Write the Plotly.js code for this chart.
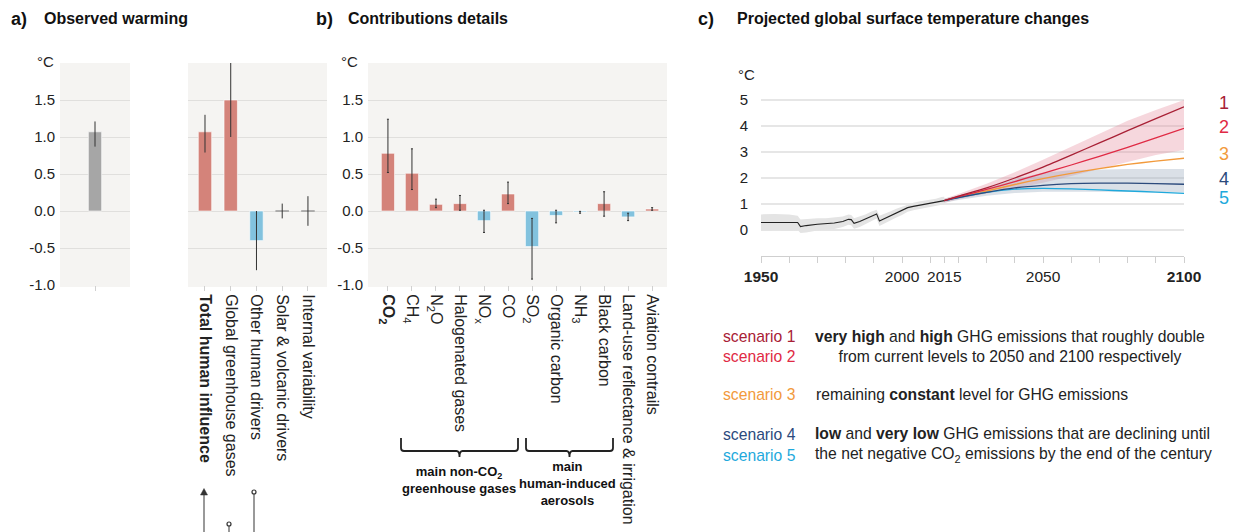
<!DOCTYPE html>
<html><head><meta charset="utf-8">
<script src="https://cdn.plot.ly/plotly-3.0.1.min.js"></script>
<style>html,body{margin:0;padding:0;background:#fff}#chart{width:1233px;height:532px}</style>
</head><body><div id="chart"></div>
<script>
// ---------- DATA ----------
const obsCats = ['Observed'];
const obsVals = [1.07];
const obsLow  = [0.87];
const obsHigh = [1.21];

const attrCats   = ['Total human influence','Global greenhouse gases','Other human drivers','Solar & volcanic drivers','Internal variability'];
const attrLabels = ['<b>Total human influence</b>','Global greenhouse gases','Other human drivers','Solar & volcanic drivers','Internal variability'];
const attrVals = [1.07, 1.50, -0.40, 0.00, 0.00];
const attrLow  = [0.79, 1.00, -0.80, -0.10, -0.20];
const attrHigh = [1.30, 2.00, 0.00, 0.10, 0.20];

const contribCats = ['CO2','CH4','N2O','Halogenated gases','NOx','CO','SO2','Organic carbon','NH3','Black carbon','Land-use reflectance & irrigation','Aviation contrails'];
const contribLabels = ['<b>CO<sub>2</sub></b>','CH<sub>4</sub>','N<sub>2</sub>O','Halogenated gases','NO<sub>x</sub>','CO','SO<sub>2</sub>','Organic carbon','NH<sub>3</sub>','Black carbon','Land-use reflectance & irrigation','Aviation contrails'];
const contribVals = [0.78, 0.51, 0.09, 0.10, -0.13, 0.23, -0.48, -0.06, -0.013, 0.10, -0.08, 0.027];
const contribLow  = [0.52, 0.29, 0.045, 0.01, -0.29, 0.10, -0.92, -0.16, -0.03, -0.07, -0.13, 0.01];
const contribHigh = [1.24, 0.84, 0.16, 0.21, 0.01, 0.39, -0.10, 0.01, -0.005, 0.26, -0.03, 0.045];

const histYears = [1950,1955,1960,1963,1964,1966,1970,1973,1976,1979,1981,1982,1983,1985,1987,1989,1991,1992,1994,1996,1998,2000,2002,2004,2006,2008,2010,2012,2014,2015];
const histTemp  = [0.29,0.30,0.30,0.29,0.13,0.17,0.22,0.24,0.27,0.33,0.41,0.40,0.26,0.33,0.42,0.52,0.62,0.35,0.45,0.56,0.66,0.75,0.86,0.91,0.95,0.99,1.03,1.06,1.12,1.13];
const histUpper = [0.60,0.62,0.60,0.55,0.40,0.42,0.45,0.45,0.48,0.52,0.60,0.58,0.45,0.52,0.60,0.70,0.78,0.55,0.62,0.72,0.82,0.90,1.00,1.05,1.10,1.13,1.17,1.20,1.27,1.28];
const histLower = [-0.02,0.00,-0.02,0.00,-0.12,-0.10,-0.02,0.00,0.04,0.12,0.20,0.18,0.05,0.12,0.22,0.33,0.44,0.15,0.27,0.38,0.48,0.58,0.70,0.76,0.80,0.85,0.90,0.93,0.98,0.99];

const projYears = [2015,2020,2030,2040,2050,2060,2070,2080,2090,2100];
const scen1 = [1.13,1.30,1.62,2.00,2.42,2.88,3.35,3.82,4.28,4.74];
const scen2 = [1.13,1.28,1.56,1.86,2.18,2.50,2.83,3.18,3.54,3.91];
const scen3 = [1.13,1.27,1.50,1.75,1.98,2.18,2.36,2.52,2.65,2.76];
const scen4 = [1.13,1.25,1.45,1.62,1.72,1.78,1.80,1.80,1.78,1.76];
const scen5 = [1.13,1.25,1.45,1.57,1.60,1.58,1.54,1.50,1.46,1.41];
const highBandUpper = [1.20,1.38,1.78,2.22,2.70,3.20,3.70,4.20,4.62,5.00];
const highBandLower = [1.05,1.18,1.40,1.60,1.82,2.08,2.35,2.62,2.88,3.08];
const lowBandUpper  = [1.20,1.33,1.60,1.95,2.20,2.30,2.33,2.35,2.35,2.35];
const lowBandLower  = [1.05,1.15,1.32,1.42,1.47,1.48,1.47,1.46,1.45,1.44];

const scenarioNames = ['scenario 1','scenario 2','scenario 3','scenario 4','scenario 5'];
const yTickVals = [-1,-0.5,0,0.5,1,1.5];
const yTickText = ['-1.0','-0.5','0.0','0.5','1.0','1.5'];
const cTickVals = [1950,1960,1970,1980,1990,2000,2010,2015,2020,2030,2040,2050,2060,2070,2080,2090,2100];
const cTickText = ['<b>1950</b>','','','','','2000','','2015','','','','2050','','','','','<b>2100</b>'];

// ---------- STYLE ----------
const W = 1233, H = 532;
const px = x => x / W;
const py = y => 1 - y / H;
const FONT = 'Liberation Sans, Arial, Helvetica, sans-serif';
const RED = '#d4837a', BLUE = '#82c2de', GREY = '#a6a6a6';
const scenColors = ['#a82035','#e02a44','#f29a3c','#2b4a7c','#1fa9dc'];
const barColor = v => v >= 0 ? RED : BLUE;

function errs(vals, low, high) {
  return {type:'data', symmetric:false,
    array: vals.map((v,i)=>high[i]-v), arrayminus: vals.map((v,i)=>v-low[i]),
    color:'#333', thickness:1, width:0};
}

const traces = [];
traces.push({type:'bar', x:obsCats, y:obsVals, xaxis:'x', yaxis:'y', width:0.19,
  marker:{color:GREY, line:{color:'rgba(255,255,255,0.6)', width:1}},
  error_y: errs(obsVals, obsLow, obsHigh), hoverinfo:'skip'});
traces.push({type:'bar', x:attrCats, y:attrVals, xaxis:'x2', yaxis:'y2', width:0.52,
  marker:{color:attrVals.map(barColor), line:{color:attrVals.map(v=>v===0?'#999':'rgba(255,255,255,0.6)'), width:1}},
  error_y: errs(attrVals, attrLow, attrHigh), hoverinfo:'skip'});
const ce = errs(contribVals, contribLow, contribHigh); ce.width = 1;
traces.push({type:'bar', x:contribCats, y:contribVals, xaxis:'x3', yaxis:'y3', width:0.55,
  marker:{color:contribVals.map(barColor), line:{color:'rgba(255,255,255,0.6)', width:1}},
  error_y: ce, hoverinfo:'skip'});

// Panel c
function band(xs, up, lo, color) {
  traces.push({type:'scatter', mode:'lines', x:xs, y:up, xaxis:'x4', yaxis:'y4', line:{width:0, color:'rgba(0,0,0,0)'}, hoverinfo:'skip'});
  traces.push({type:'scatter', mode:'lines', x:xs, y:lo, xaxis:'x4', yaxis:'y4', line:{width:0, color:'rgba(0,0,0,0)'}, fill:'tonexty', fillcolor:color, hoverinfo:'skip'});
}
band(histYears, histUpper, histLower, '#e4e4e4');
traces.push({type:'scatter', mode:'lines', x:histYears, y:histTemp, xaxis:'x4', yaxis:'y4', line:{color:'#222', width:1.1}, hoverinfo:'skip'});
band(projYears, highBandUpper, highBandLower, 'rgba(228,130,148,0.32)');
band(projYears, lowBandUpper, lowBandLower, 'rgba(150,165,185,0.35)');
[scen3, scen5, scen4, scen2, scen1].forEach((s) => {
  const idx = [scen1,scen2,scen3,scen4,scen5].indexOf(s);
  traces.push({type:'scatter', mode:'lines', x:projYears, y:s, xaxis:'x4', yaxis:'y4',
    line:{color:scenColors[idx], width:1.3, shape:'spline', smoothing:0.6}, hoverinfo:'skip'});
});

const tickFont = {family:FONT, size:15, color:'#222'};
const catFont = {family:FONT, size:16, color:'#222'};
const baseY = {range:[-1,2], tickvals:yTickVals, ticktext:yTickText, gridcolor:'#e0dfdd', gridwidth:1,
  zeroline:false, showline:false, ticks:'', tickfont:tickFont, fixedrange:true, ticklabelstandoff:4};
const baseX = {type:'category', ticks:'outside', ticklen:5, tickcolor:'#d0d0d0', showgrid:false, zeroline:false,
  showline:false, tickangle:90, tickfont:catFont, fixedrange:true};

const layout = {
  width:W, height:H, margin:{l:0,r:0,t:0,b:0}, paper_bgcolor:'#fff', plot_bgcolor:'rgba(0,0,0,0)',
  showlegend:false, bargap:0, font:{family:FONT, color:'#222'},
  xaxis: Object.assign({}, baseX, {domain:[px(60),px(130)], anchor:'y', range:[-0.5,0.5], showticklabels:false}),
  yaxis: Object.assign({}, baseY, {domain:[py(285),py(63)], anchor:'x'}),
  xaxis2: Object.assign({}, baseX, {domain:[px(188),px(327)], anchor:'y2', range:[-0.66,4.74], tickmode:'array', tickvals:attrCats, ticktext:attrLabels}),
  yaxis2: Object.assign({}, baseY, {domain:[py(285),py(63)], anchor:'x2', showticklabels:false}),
  xaxis3: Object.assign({}, baseX, {domain:[px(368),px(667)], anchor:'y3', range:[-0.83,11.62], tickmode:'array', tickvals:contribCats, ticktext:contribLabels}),
  yaxis3: Object.assign({}, baseY, {domain:[py(285),py(63)], anchor:'x3'}),
  xaxis4: {domain:[px(761),px(1184)], anchor:'y4', range:[1950,2100], tickmode:'array', tickvals:cTickVals, ticktext:cTickText,
    ticks:'outside', ticklen:6, tickcolor:'#cfcfcf', showline:true, linecolor:'#cfcfcf', linewidth:1, showgrid:false, zeroline:false,
    tickangle:0, tickfont:{family:FONT, size:15.5, color:'#222'}, fixedrange:true},
  yaxis4: {domain:[py(256),py(87)], anchor:'x4', range:[-1,5.5], tickvals:[0,1,2,3,4,5], gridcolor:'#e6e6e6', gridwidth:1.5,
    zeroline:false, showline:false, ticks:'', tickfont:tickFont, fixedrange:true, ticklabelstandoff:12},
  shapes: [],
  annotations: []
};

// panel backgrounds
[[60,130],[188,327],[368,667]].forEach(([a,b]) => {
  layout.shapes.push({type:'rect', xref:'paper', yref:'paper', x0:px(a), x1:px(b), y0:py(287), y1:py(63),
    fillcolor:'#f5f4f2', line:{width:0}, layer:'below'});
});

// braces
function brace(x1, x2, yTop, yLine, yTip) {
  const xm = (x1+x2)/2, r = 3;
  return `M${px(x1)},${py(yTop)} L${px(x1)},${py(yLine-r)} Q${px(x1)},${py(yLine)} ${px(x1+r)},${py(yLine)} ` +
    `L${px(xm-r)},${py(yLine)} Q${px(xm)},${py(yLine)} ${px(xm)},${py(yTip)} Q${px(xm)},${py(yLine)} ${px(xm+r)},${py(yLine)} ` +
    `L${px(x2-r)},${py(yLine)} Q${px(x2)},${py(yLine)} ${px(x2)},${py(yLine-r)} L${px(x2)},${py(yTop)}`;
}
layout.shapes.push({type:'path', xref:'paper', yref:'paper', path:brace(401,518,438,451,457), line:{color:'#222', width:1.8}});
layout.shapes.push({type:'path', xref:'paper', yref:'paper', path:brace(526,613,438,451,457), line:{color:'#222', width:1.8}});

// leader lines below panel a
const lc = '#555';
layout.shapes.push({type:'line', xref:'paper', yref:'paper', x0:px(204), x1:px(204), y0:py(532), y1:py(494), line:{color:lc, width:1.2}});
layout.shapes.push({type:'path', xref:'paper', yref:'paper', path:`M${px(200.5)},${py(495)} L${px(204)},${py(488.5)} L${px(207.5)},${py(495)} Z`, fillcolor:'#333', line:{color:'#333', width:0.5}});
layout.shapes.push({type:'line', xref:'paper', yref:'paper', x0:px(229), x1:px(229), y0:py(532), y1:py(526), line:{color:lc, width:1.2}});
layout.shapes.push({type:'circle', xref:'paper', yref:'paper', x0:px(227), x1:px(231), y0:py(526), y1:py(522), fillcolor:'#fff', line:{color:'#333', width:1.2}});
layout.shapes.push({type:'line', xref:'paper', yref:'paper', x0:px(254), x1:px(254), y0:py(532), y1:py(494), line:{color:lc, width:1.2}});
layout.shapes.push({type:'circle', xref:'paper', yref:'paper', x0:px(252), x1:px(256), y0:py(494), y1:py(490), fillcolor:'#fff', line:{color:'#333', width:1.2}});

// annotations
function ann(text, x, y, opts) {
  layout.annotations.push(Object.assign({text, x:px(x), y:py(y), xref:'paper', yref:'paper', showarrow:false,
    xanchor:'left', yanchor:'middle', font:{family:FONT, size:15, color:'#222'}}, opts||{}));
}
const titleFont = {family:FONT, size:16, color:'#111'};
const labFont = {family:FONT, size:18, color:'#111'};
ann('<b>a)</b>', 9, 19, {font:labFont});
ann('<b>Observed warming</b>', 42, 19, {font:titleFont});
ann('<b>b)</b>', 314, 19, {font:labFont});
ann('<b>Contributions details</b>', 346, 19, {font:titleFont});
ann('<b>c)</b>', 696, 19, {font:labFont});
ann('<b>Projected global surface temperature changes</b>', 735, 19, {font:titleFont});
ann('°C', 35, 62);
ann('°C', 339, 62);
ann('°C', 736, 75);

['1','2','3','4','5'].forEach((t,i) => {
  ann(t, 1224, [103,127,154,179,198][i], {xanchor:'center', font:{family:FONT, size:18, color:scenColors[i]}});
});

ann('<b>main non-CO<sub>2</sub></b><br><b>greenhouse gases</b>', 459, 480, {xanchor:'center', align:'center', font:{family:FONT, size:13, color:'#111'}});
ann('<b>main</b><br><b>human-induced</b><br><b>aerosols</b>', 567, 483, {xanchor:'center', align:'center', font:{family:FONT, size:13, color:'#111'}});

const descFont = {family:FONT, size:15.7, color:'#222'};
const scenY = [336,356,395,434,455];
scenarioNames.forEach((t,i) => ann(t, 721, scenY[i], {font:{family:FONT, size:15.7, color:scenColors[i]}}));
ann('<b>very high</b> and <b>high</b> GHG emissions that roughly double<br>from current levels to 2050 and 2100 respectively', 1010, 346, {xanchor:'center', align:'center', font:descFont});
ann('remaining <b>constant</b> level for GHG emissions', 814, 395, {font:descFont});
ann('<b>low</b> and <b>very low</b> GHG emissions that are declining until<br>the net negative CO<sub>2</sub> emissions by the end of the century', 813, 445, {align:'left', font:descFont});

Plotly.newPlot('chart', traces, layout, {displayModeBar:false, staticPlot:true});
</script></body></html>
